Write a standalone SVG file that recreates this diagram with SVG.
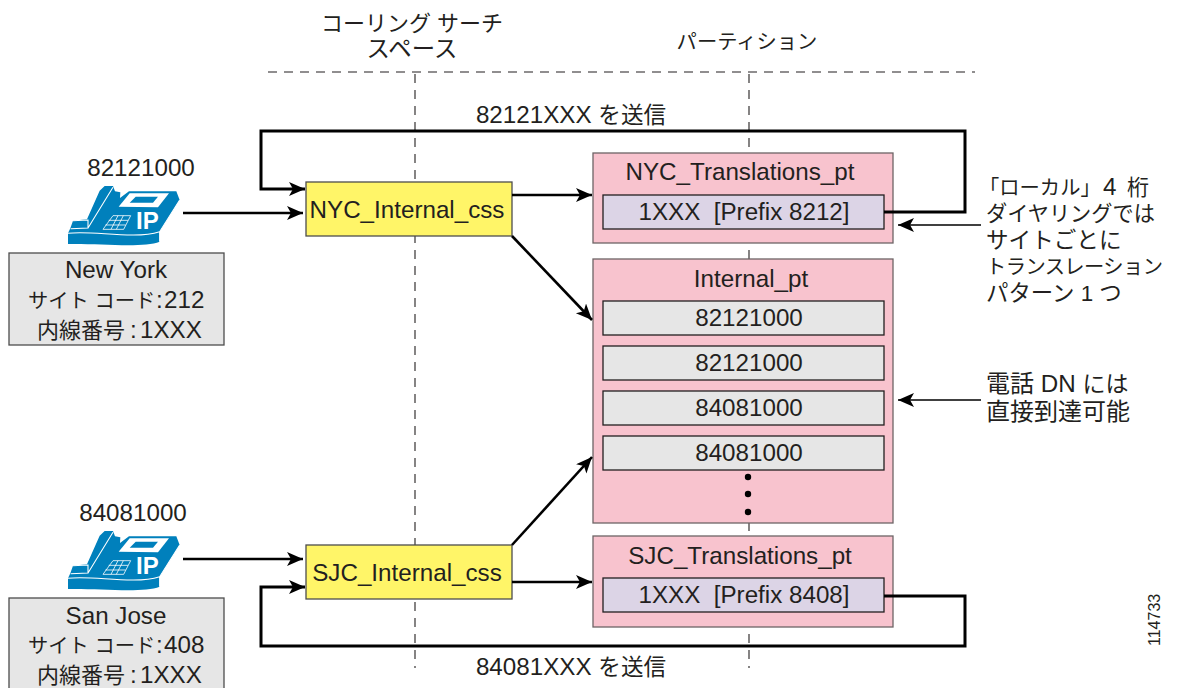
<svg xmlns="http://www.w3.org/2000/svg" width="1178" height="688" viewBox="0 0 1178 688">
<style>
text{font-family:"Liberation Sans","Noto Sans CJK JP",sans-serif;font-size:24.2px;fill:#231f20;text-anchor:middle;white-space:pre}
.l{text-anchor:start}
.j,.j tspan{font-size:20.3px}
tspan.e{font-size:24.2px}
.pink{fill:#f8c3ce;stroke:#6d6466;stroke-width:1.3}
.gray{fill:#e6e6e6;stroke:#231f20;stroke-width:1.3}
.lil{fill:#dcd4e6;stroke:#231f20;stroke-width:1.3}
.site{fill:#e6e6e6;stroke:#4d4d4d;stroke-width:1.3}
.css{fill:#fff568;stroke:#4d4d4d;stroke-width:1.3}
.dash{fill:none;stroke:#231f20;stroke-width:1.1;stroke-dasharray:9 7}
.c{fill:none;stroke:#000;stroke-width:2.6}
.t{fill:none;stroke:#000;stroke-width:3}
.n{fill:none;stroke:#000;stroke-width:1.5}
.ph{fill:#0080bc}
.w{fill:none;stroke:#fff;stroke-width:3.2}
text.ip{fill:#fff;font-weight:bold;font-size:24px;text-anchor:start}
</style>
<defs>
<marker id="a" markerUnits="userSpaceOnUse" markerWidth="20" markerHeight="16" refX="16" refY="7" orient="auto"><path d="M0 0L16 7L0 14L4 7Z" fill="#000"/></marker>
<g id="phone" transform="scale(.3333)">
<path class="ph" d="M7 127L15 104L57 100L95 14L110 0L135 0L141 16L157 19L156 36L183 16L325 16L335 42L275 137L275 167C225 187 95 172 0 174L0 142Z"/>
<path class="w" d="M0 142C75 132 195 162 275 137L335 42M275 137V167M60 126L135 4M15 104L60 102V126L8 128"/>
<path d="M152 62L185 22L303 22L270 64Z" fill="#fff"/><path d="M185 50L203 32L270 32L255 50Z" fill="#0080bc"/>
<path class="w" style="stroke-width:2.4" d="M105 130L135 89L188 89L167 130ZM122 103H180M112 117H173M150 89L129 130M166 89L145 130"/>
</g>
</defs>

<g id="headers">
<text class="j" x="412" y="31" style="font-size:22px">コーリング サーチ</text>
<text class="j" x="412" y="57" style="font-size:23.4px">スペース</text>
<text class="j" x="747" y="49">パーティション</text>
</g>
<g id="guides">
<path class="dash" d="M268 72H975"/>
<path class="dash" d="M415 74V668"/>
<path class="dash" d="M749 74V668"/>
</g>

<g id="nyc-translations"><rect class="pink" x="593" y="153" width="300" height="90"/><text x="740" y="180">NYC_Translations_pt</text><rect class="lil" x="603" y="195" width="281" height="34"/><text x="744" y="220">1XXX  [Prefix 8212]</text></g>
<g id="internal"><rect class="pink" x="593" y="259" width="300" height="264"/><text x="751" y="287">Internal_pt</text>
<rect class="gray" x="603" y="301" width="281" height="34"/><text x="749" y="326">82121000</text>
<rect class="gray" x="603" y="346" width="281" height="34"/><text x="749" y="371">82121000</text>
<rect class="gray" x="603" y="391" width="281" height="34"/><text x="749" y="416">84081000</text>
<rect class="gray" x="603" y="436" width="281" height="34"/><text x="749" y="461">84081000</text>
<circle cx="748" cy="477" r="3.2"/><circle cx="748" cy="494" r="3.2"/><circle cx="748" cy="512" r="3.2"/></g>
<g id="sjc-translations"><rect class="pink" x="593" y="536" width="300" height="91"/><text x="740" y="564">SJC_Translations_pt</text><rect class="lil" x="603" y="578" width="281" height="34"/><text x="744" y="603">1XXX  [Prefix 8408]</text></g>

<g id="nyc-css"><rect class="css" x="306" y="182" width="206" height="54"/><text x="407" y="218">NYC_Internal_css</text></g>
<g id="sjc-css"><rect class="css" x="306" y="545" width="206" height="54"/><text x="407" y="581">SJC_Internal_css</text></g>

<g id="ny-phone"><text x="141" y="176">82121000</text><use href="#phone" x="68" y="186"/><text class="ip" x="136" y="229">IP</text></g>
<g id="ny-site"><rect class="site" x="9" y="253" width="215" height="92"/><text x="116" y="278">New York</text>
<text class="l j" y="308"><tspan x="28">サイト コード</tspan><tspan class="e" x="156">:</tspan><tspan class="e" x="164">212</tspan></text>
<text class="l" y="338"><tspan x="37" style="font-size:22px">内線番号</tspan><tspan x="130">:</tspan><tspan x="140">1XXX</tspan></text></g>
<g id="sj-phone"><text x="133" y="521">84081000</text><use href="#phone" x="68" y="531"/><text class="ip" x="136" y="574">IP</text></g>
<g id="sj-site"><rect class="site" x="9" y="598" width="215" height="92"/><text x="116" y="624">San Jose</text>
<text class="l j" y="653"><tspan x="28">サイト コード</tspan><tspan class="e" x="156">:</tspan><tspan class="e" x="164">408</tspan></text>
<text class="l" y="683"><tspan x="37" style="font-size:22px">内線番号</tspan><tspan x="130">:</tspan><tspan x="140">1XXX</tspan></text></g>

<g id="connectors">
<path class="c" d="M183 213H303" marker-end="url(#a)"/>
<path class="c" d="M183 559H303" marker-end="url(#a)"/>
<path class="c" d="M512 195H592" marker-end="url(#a)"/>
<path class="c" d="M512 582H592" marker-end="url(#a)"/>
<path class="c" d="M512 236L592 320" marker-end="url(#a)"/>
<path class="c" d="M512 545L592 457" marker-end="url(#a)"/>
<path class="t" d="M884 212H965V131H261V189H305" marker-end="url(#a)"/>
<path class="t" d="M884 596H965V646H261V587H305" marker-end="url(#a)"/>
<path class="n" d="M981 225H898" marker-end="url(#a)"/>
<path class="n" d="M981 400H898" marker-end="url(#a)"/>
</g>

<g id="labels">
<text x="571" y="123">82121XXX <tspan style="font-size:22.6px">を送信</tspan></text>
<text x="571" y="675">84081XXX <tspan style="font-size:22.6px">を送信</tspan></text>
<text class="l j" x="979" y="195">「ローカル」<tspan class="e" x="1103">4</tspan><tspan x="1127" style="font-size:22px">桁</tspan></text>
<text class="l" x="986" y="221" style="font-size:21.2px">ダイヤリングでは</text>
<text class="l" x="986" y="248" style="font-size:22.6px">サイトごとに</text>
<text class="l j" x="986" y="274" textLength="177">トランスレーション</text>
<text class="l" x="986" y="301" style="font-size:22.4px">パターン 1 つ</text>
<text class="l" x="986" y="392"><tspan style="font-size:24px">電話</tspan> DN <tspan style="font-size:23px">には</tspan></text>
<text class="l" x="986" y="420" style="font-size:24px">直接到達可能</text>
<text x="0" y="0" transform="translate(1160 646) rotate(-90)" style="font-size:16px;text-anchor:start">114733</text>
</g>
</svg>
